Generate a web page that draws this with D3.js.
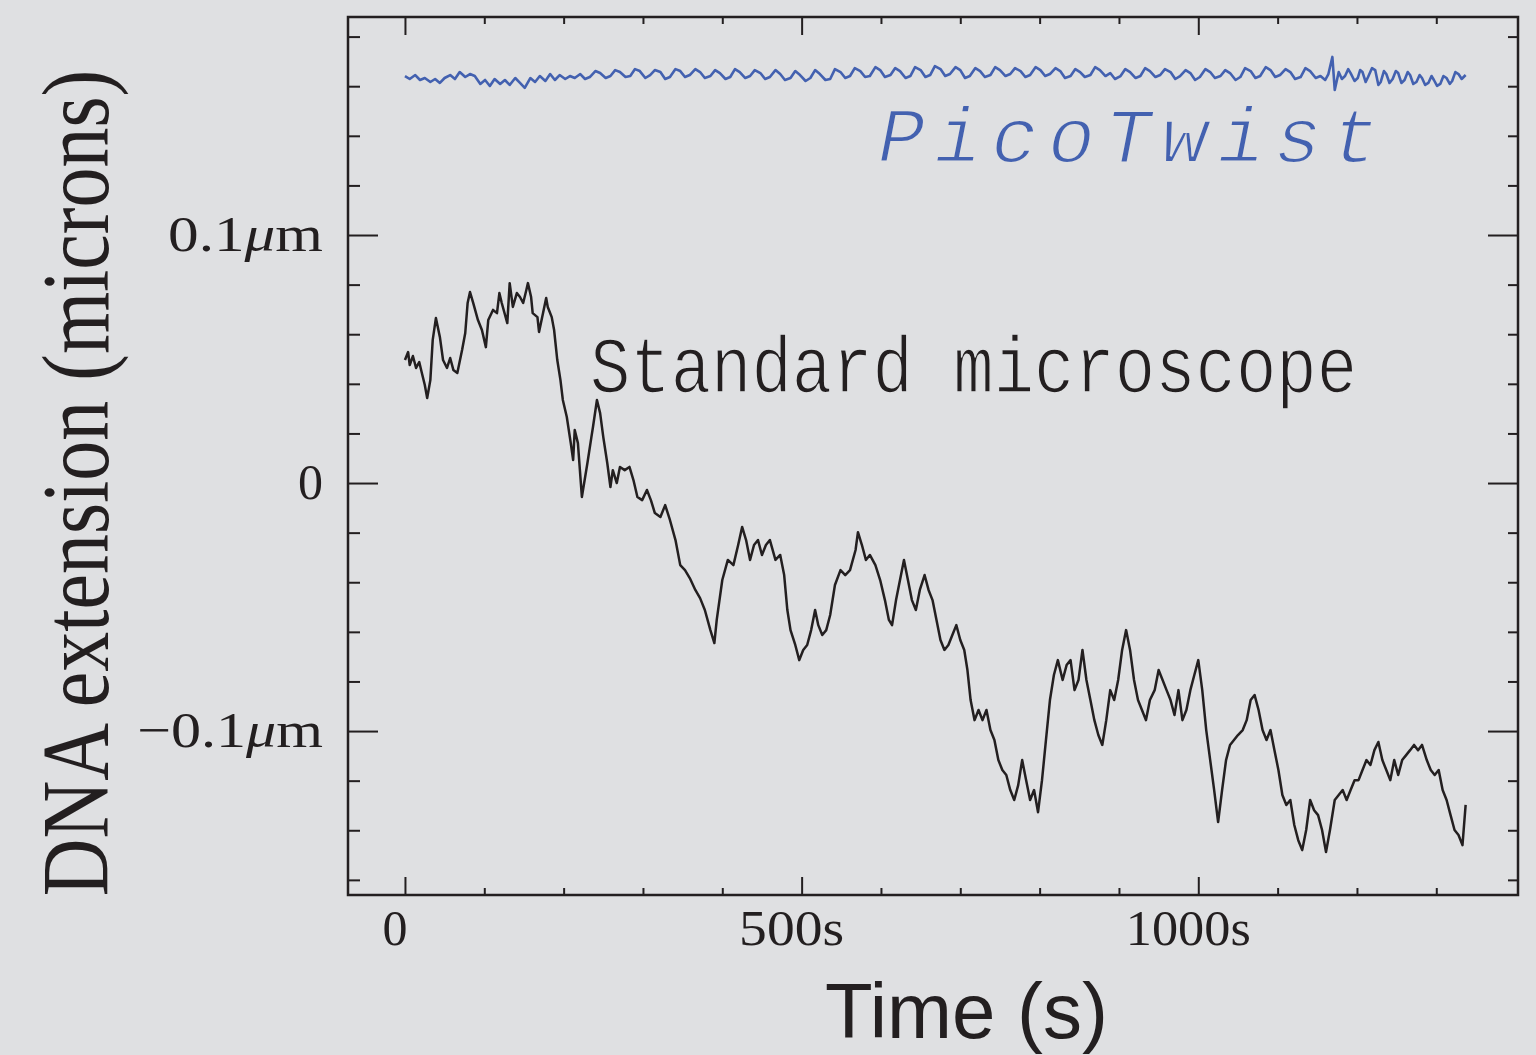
<!DOCTYPE html>
<html>
<head>
<meta charset="utf-8">
<script src="https://cdn.jsdelivr.net/npm/d3@7/dist/d3.min.js"></script>
<style>
  body { margin: 0; background: #dfe0e2; }
  svg { display: block; }
</style>
</head>
<body>
<script>
// Tick values and labels
const xMajor = [0, 500, 1000];
const xMinor = [100, 200, 300, 400, 600, 700, 800, 900, 1100, 1200, 1300];
const xLabels = ["0", "500s", "1000s"];
const yMajor = [-0.1, 0, 0.1];
const yMinor = [-0.16, -0.14, -0.12, -0.08, -0.06, -0.04, -0.02, 0.02, 0.04, 0.06, 0.08, 0.12, 0.14, 0.16, 0.18];
const yLabelNums = ["\u22120.1", "0", "0.1"];
const yLabelUnits = ["\u03bc", "", "\u03bc"];

// Standard microscope trace: [time (s), extension (microns)]
const standardTrace = [
  [0,0.0496],[4,0.0528],[6,0.0476],[10,0.0512],[14,0.0464],[18,0.0488],[21,0.0448],[25,0.0395],
  [28,0.0343],[32,0.0415],[35,0.0577],[39,0.0665],[44,0.0589],[48,0.0496],[53,0.0464],[57,0.0504],
  [61,0.0456],[66,0.0444],[72,0.0536],[76,0.0605],[79,0.0726],[82,0.0770],[86,0.0726],[92,0.0657],
  [97,0.0617],[102,0.0548],[105,0.0657],[111,0.0698],[116,0.0685],[119,0.0766],[122,0.0726],[129,0.0645],
  [132,0.0806],[136,0.0710],[141,0.0766],[145,0.0750],[149,0.0726],[153,0.0778],[155,0.0806],[159,0.0750],
  [161,0.0685],[167,0.0669],[169,0.0609],[174,0.0685],[178,0.0746],[180,0.0710],[185,0.0669],[188,0.0617],
  [192,0.0496],[196,0.0415],[199,0.0335],[204,0.0266],[209,0.0161],[212,0.0093],[214,0.0214],[218,0.0161],
  [223,-0.0056],[230,0.0081],[235,0.0185],[237,0.0226],[242,0.0335],[246,0.0282],[250,0.0185],[255,0.0081],
  [259,-0.0016],[262,0.0052],[267,0.0000],[271,0.0065],[277,0.0052],[283,0.0065],[288,0.0012],[293,-0.0056],
  [299,-0.0069],[305,-0.0028],[310,-0.0069],[315,-0.0121],[322,-0.0137],[328,-0.0089],[334,-0.0149],[341,-0.0230],
  [347,-0.0331],[353,-0.0351],[359,-0.0383],[366,-0.0431],[372,-0.0464],[378,-0.0512],[385,-0.0593],[390,-0.0645],
  [393,-0.0552],[400,-0.0391],[407,-0.0310],[414,-0.0331],[420,-0.0250],[425,-0.0177],[430,-0.0230],[435,-0.0310],
  [440,-0.0250],[445,-0.0230],[450,-0.0290],[455,-0.0250],[460,-0.0230],[467,-0.0310],[473,-0.0290],[478,-0.0371],
  [482,-0.0512],[486,-0.0593],[492,-0.0653],[497,-0.0714],[502,-0.0673],[507,-0.0653],[512,-0.0593],[517,-0.0512],
  [521,-0.0573],[526,-0.0613],[531,-0.0593],[536,-0.0532],[542,-0.0411],[549,-0.0351],[555,-0.0371],[561,-0.0351],
  [568,-0.0270],[571,-0.0198],[576,-0.0250],[581,-0.0310],[586,-0.0290],[593,-0.0331],[599,-0.0391],[605,-0.0472],
  [610,-0.0552],[614,-0.0573],[619,-0.0472],[624,-0.0391],[629,-0.0310],[634,-0.0391],[639,-0.0472],[644,-0.0512],
  [649,-0.0431],[655,-0.0371],[660,-0.0431],[665,-0.0472],[670,-0.0552],[675,-0.0633],[680,-0.0673],[685,-0.0653],
  [690,-0.0613],[695,-0.0573],[700,-0.0633],[705,-0.0673],[709,-0.0754],[713,-0.0875],[718,-0.0956],[723,-0.0915],
  [728,-0.0956],[733,-0.0915],[738,-0.0996],[743,-0.1036],[748,-0.1117],[753,-0.1157],[758,-0.1177],[763,-0.1238],
  [768,-0.1278],[773,-0.1218],[778,-0.1117],[783,-0.1198],[788,-0.1278],[793,-0.1238],[798,-0.1327],[803,-0.1198],
  [808,-0.1036],[813,-0.0875],[818,-0.0774],[823,-0.0714],[829,-0.0794],[834,-0.0734],[839,-0.0714],[844,-0.0835],
  [849,-0.0794],[854,-0.0673],[859,-0.0794],[864,-0.0875],[869,-0.0956],[874,-0.1016],[879,-0.1056],[884,-0.0956],
  [889,-0.0835],[894,-0.0875],[899,-0.0794],[904,-0.0673],[909,-0.0593],[914,-0.0673],[919,-0.0794],[924,-0.0875],
  [929,-0.0915],[934,-0.0956],[939,-0.0875],[945,-0.0835],[950,-0.0754],[955,-0.0794],[960,-0.0835],[965,-0.0875],
  [970,-0.0935],[975,-0.0835],[980,-0.0956],[985,-0.0915],[990,-0.0835],[995,-0.0774],[1000,-0.0714],[1005,-0.0835],
  [1010,-0.0996],[1015,-0.1117],[1020,-0.1238],[1025,-0.1367],[1030,-0.1238],[1035,-0.1117],[1040,-0.1056],[1045,-0.1036],
  [1050,-0.1016],[1056,-0.0996],[1061,-0.0956],[1066,-0.0875],[1071,-0.0855],[1076,-0.0915],[1081,-0.0996],[1086,-0.1036],
  [1091,-0.0996],[1096,-0.1077],[1101,-0.1157],[1106,-0.1258],[1111,-0.1298],[1116,-0.1278],[1121,-0.1379],[1126,-0.1440],
  [1131,-0.1480],[1136,-0.1399],[1141,-0.1278],[1146,-0.1319],[1151,-0.1339],[1156,-0.1399],[1161,-0.1488],[1166,-0.1399],
  [1172,-0.1278],[1177,-0.1258],[1182,-0.1238],[1187,-0.1278],[1192,-0.1238],[1197,-0.1198],[1202,-0.1198],[1207,-0.1157],
  [1212,-0.1117],[1217,-0.1137],[1222,-0.1077],[1227,-0.1044],[1232,-0.1117],[1237,-0.1157],[1242,-0.1198],[1247,-0.1117],
  [1252,-0.1177],[1257,-0.1117],[1262,-0.1097],[1267,-0.1077],[1272,-0.1056],[1277,-0.1077],[1282,-0.1056],[1288,-0.1117],
  [1293,-0.1157],[1298,-0.1177],[1303,-0.1157],[1308,-0.1238],[1313,-0.1278],[1318,-0.1339],[1323,-0.1399],[1328,-0.1419],
  [1333,-0.1460],[1337,-0.1298]
];

// PicoTwist trace: [time (s), extension (microns)]
const picoTrace = [
  [0,0.1641],[6,0.1629],[13,0.1645],[19,0.1625],[25,0.1633],[32,0.1617],[38,0.1629],[44,0.1613],
  [50,0.1633],[57,0.1645],[63,0.1629],[69,0.1657],[76,0.1637],[82,0.1649],[88,0.1641],[95,0.1609],
  [101,0.1625],[107,0.1601],[113,0.1629],[120,0.1609],[126,0.1625],[132,0.1605],[139,0.1633],[145,0.1613],
  [151,0.1593],[158,0.1633],[164,0.1617],[170,0.1641],[177,0.1621],[183,0.1649],[189,0.1625],[195,0.1645],
  [202,0.1629],[208,0.1641],[214,0.1633],[221,0.1649],[227,0.1629],[233,0.1637],[240,0.1661],[246,0.1653],
  [253,0.1633],[259,0.1641],[265,0.1665],[271,0.1657],[278,0.1637],[284,0.1641],[290,0.1669],[296,0.1661],
  [303,0.1633],[309,0.1645],[315,0.1665],[322,0.1657],[328,0.1629],[334,0.1637],[341,0.1669],[347,0.1661],
  [353,0.1637],[359,0.1645],[366,0.1669],[372,0.1657],[378,0.1633],[385,0.1641],[391,0.1665],[397,0.1653],
  [404,0.1629],[410,0.1637],[416,0.1669],[422,0.1657],[429,0.1633],[435,0.1641],[441,0.1665],[448,0.1653],
  [454,0.1629],[460,0.1637],[467,0.1665],[473,0.1649],[479,0.1625],[486,0.1633],[492,0.1661],[498,0.1645],
  [505,0.1621],[511,0.1633],[517,0.1665],[523,0.1649],[530,0.1625],[536,0.1629],[542,0.1669],[549,0.1657],
  [555,0.1633],[561,0.1641],[567,0.1673],[574,0.1661],[580,0.1637],[586,0.1641],[593,0.1677],[599,0.1665],
  [605,0.1637],[612,0.1645],[618,0.1673],[624,0.1661],[631,0.1633],[637,0.1641],[643,0.1677],[650,0.1665],
  [656,0.1637],[662,0.1645],[668,0.1681],[675,0.1669],[681,0.1641],[687,0.1649],[694,0.1677],[700,0.1665],
  [706,0.1633],[712,0.1641],[719,0.1673],[725,0.1661],[731,0.1637],[738,0.1645],[744,0.1677],[750,0.1665],
  [757,0.1641],[763,0.1649],[769,0.1673],[776,0.1661],[782,0.1637],[788,0.1645],[795,0.1677],[801,0.1665],
  [807,0.1641],[813,0.1649],[820,0.1673],[826,0.1661],[832,0.1633],[839,0.1641],[845,0.1669],[851,0.1657],
  [857,0.1637],[864,0.1645],[870,0.1677],[876,0.1665],[883,0.1641],[889,0.1653],[895,0.1629],[902,0.1641],
  [908,0.1669],[914,0.1657],[921,0.1633],[927,0.1641],[933,0.1673],[939,0.1661],[946,0.1637],[952,0.1645],
  [958,0.1669],[965,0.1657],[971,0.1629],[977,0.1641],[984,0.1665],[990,0.1653],[996,0.1625],[1002,0.1637],
  [1009,0.1669],[1015,0.1657],[1021,0.1633],[1028,0.1641],[1034,0.1665],[1040,0.1653],[1047,0.1625],[1053,0.1637],
  [1059,0.1673],[1066,0.1661],[1072,0.1633],[1078,0.1641],[1085,0.1677],[1091,0.1665],[1097,0.1637],[1103,0.1645],
  [1110,0.1669],[1116,0.1657],[1122,0.1629],[1129,0.1637],[1135,0.1673],[1141,0.1661],[1148,0.1633],[1154,0.1641],
  [1160,0.1625],[1164,0.1649],[1169,0.1718],[1172,0.1585],[1177,0.1657],[1181,0.1629],[1185,0.1641],[1189,0.1669],
  [1192,0.1653],[1197,0.1621],[1201,0.1633],[1204,0.1665],[1207,0.1657],[1211,0.1617],[1214,0.1637],[1219,0.1673],
  [1223,0.1665],[1227,0.1605],[1230,0.1617],[1234,0.1661],[1237,0.1649],[1241,0.1613],[1245,0.1629],[1249,0.1661],
  [1252,0.1653],[1256,0.1613],[1260,0.1625],[1264,0.1657],[1267,0.1645],[1271,0.1609],[1275,0.1617],[1279,0.1645],
  [1282,0.1633],[1286,0.1605],[1290,0.1613],[1294,0.1641],[1297,0.1625],[1301,0.1601],[1305,0.1609],[1309,0.1641],
  [1313,0.1633],[1317,0.1609],[1320,0.1621],[1324,0.1657],[1328,0.1649],[1332,0.1629],[1337,0.1645]
];

const W = 1536, H = 1055;
const plotL = 348, plotR = 1518, plotT = 17, plotB = 895;
const ink = "#231f20", blue = "#4361b0", bg = "#dfe0e2";

const svg = d3.select("body").append("svg")
  .attr("width", W)
  .attr("height", H);

svg.append("rect").attr("width", W).attr("height", H).attr("fill", bg);

const x = d3.scaleLinear().domain([-71.8, 1403]).range([plotL, plotR]);
const y = d3.scaleLinear().domain([-0.1661, 0.1879]).range([plotB, plotT]);

// ticks on all four sides, pointing inward
function ticks(axis, vals, size, tx, ty) {
  const g = svg.append("g")
    .attr("transform", "translate(" + tx + "," + ty + ")")
    .call(axis.tickValues(vals).tickSize(size).tickFormat(""));
  g.select(".domain").remove();
  g.selectAll("line").attr("stroke", ink).attr("stroke-width", 2);
}
ticks(d3.axisRight(y), yMajor, 30, plotL, 0);
ticks(d3.axisRight(y), yMinor, 12, plotL, 0);
ticks(d3.axisLeft(y), yMajor, 30, plotR, 0);
ticks(d3.axisLeft(y), yMinor, 10, plotR, 0);
ticks(d3.axisBottom(x), xMajor, 18, 0, plotT);
ticks(d3.axisBottom(x), xMinor, 7, 0, plotT);
ticks(d3.axisTop(x), xMajor, 18, 0, plotB);
ticks(d3.axisTop(x), xMinor, 7, 0, plotB);

// frame
svg.append("rect")
  .attr("x", plotL).attr("y", plotT)
  .attr("width", plotR - plotL).attr("height", plotB - plotT)
  .attr("fill", "none").attr("stroke", ink).attr("stroke-width", 2.5);

// traces
const line = d3.line().x(d => x(d[0])).y(d => y(d[1]));
svg.append("path").datum(picoTrace)
  .attr("d", line).attr("fill", "none")
  .attr("stroke", blue).attr("stroke-width", 2.6).attr("stroke-linejoin", "round");
svg.append("path").datum(standardTrace)
  .attr("d", line).attr("fill", "none")
  .attr("stroke", ink).attr("stroke-width", 2.5).attr("stroke-linejoin", "round");

// x tick labels
const xLabelWidths = [null, 105, 125];
xMajor.forEach((v, i) => {
  const t = svg.append("text")
    .attr("x", x(v) - 10).attr("y", 945)
    .attr("text-anchor", "middle")
    .attr("font-family", "Liberation Serif, serif")
    .attr("font-size", 50)
    .attr("fill", ink)
    .text(xLabels[i]);
  if (xLabelWidths[i]) t.attr("textLength", xLabelWidths[i]).attr("lengthAdjust", "spacingAndGlyphs");
});

// y tick labels
const yLabelWidths = [186, null, 155];
yMajor.forEach((v, i) => {
  const t = svg.append("text")
    .attr("x", 323).attr("y", y(v) + 16)
    .attr("text-anchor", "end")
    .attr("font-family", "Liberation Serif, serif")
    .attr("font-size", 50)
    .attr("fill", ink);
  t.append("tspan").text(yLabelNums[i]);
  if (yLabelUnits[i]) {
    t.append("tspan").attr("font-style", "italic").text(yLabelUnits[i]);
    t.append("tspan").text("m");
  }
  if (yLabelWidths[i]) t.attr("textLength", yLabelWidths[i]).attr("lengthAdjust", "spacingAndGlyphs");
});

// trace annotations (thin strokes in background colour make the mono glyphs lighter)
svg.append("text")
  .attr("x", 590).attr("y", 392)
  .attr("font-family", "Liberation Mono, monospace")
  .attr("font-size", 80)
  .attr("fill", ink)
  .attr("stroke", bg).attr("stroke-width", 1.6)
  .attr("textLength", 767).attr("lengthAdjust", "spacingAndGlyphs")
  .text("Standard microscope");

svg.append("text")
  .attr("x", 878).attr("y", 162)
  .attr("font-family", "Liberation Mono, monospace")
  .attr("font-style", "italic")
  .attr("font-size", 78)
  .attr("fill", blue)
  .attr("stroke", bg).attr("stroke-width", 2)
  .attr("textLength", 500).attr("lengthAdjust", "spacing")
  .text("PicoTwist");

// axis titles
svg.append("text")
  .attr("transform", "translate(108,483) scale(1.2,1) rotate(-90)")
  .attr("text-anchor", "middle")
  .attr("font-family", "Liberation Serif, serif")
  .attr("font-size", 80)
  .attr("fill", ink)
  .text("DNA extension (microns)");

svg.append("text")
  .attr("x", 825).attr("y", 1038)
  .attr("font-family", "Liberation Sans, Arial, sans-serif")
  .attr("font-size", 78)
  .attr("fill", ink)
  .text("Time (s)");
</script>
</body>
</html>
